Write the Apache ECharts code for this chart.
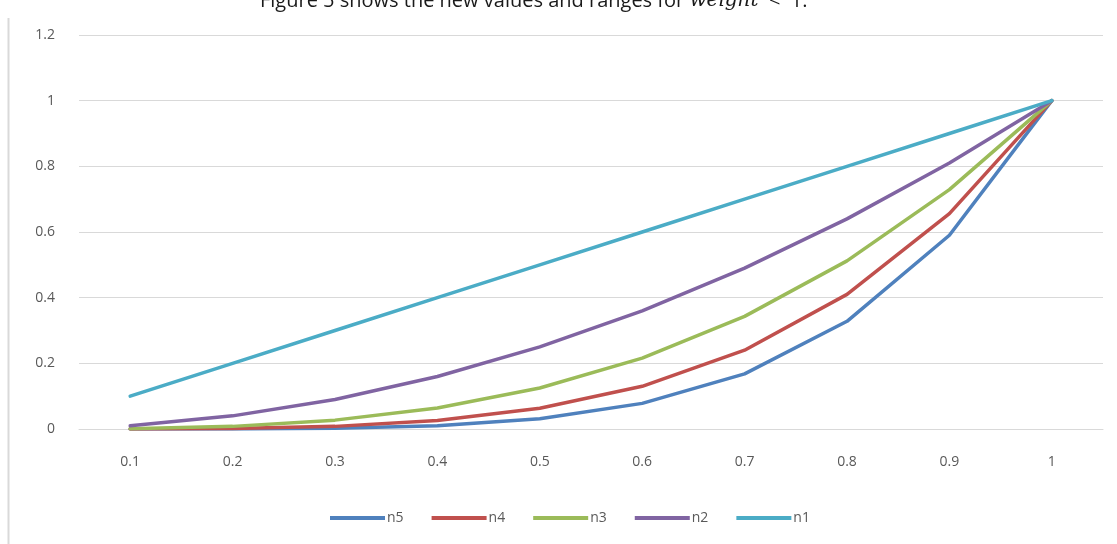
<!DOCTYPE html>
<html>
<head>
<meta charset="utf-8">
<script src="https://cdn.jsdelivr.net/npm/echarts@6/dist/echarts.min.js"></script>
<style>
  html, body { margin: 0; padding: 0; background: #ffffff; }
  #chart { width: 1117px; height: 544px; }
</style>
</head>
<body>
<div id="chart"></div>
<script>
// x positions (weight values)
const categories = ['0.1', '0.2', '0.3', '0.4', '0.5', '0.6', '0.7', '0.8', '0.9', '1'];

// curves for each exponent
const n5 = [0.00001, 0.0003, 0.0024, 0.010, 0.031, 0.078, 0.168, 0.328, 0.590, 1];
const n4 = [0.0001, 0.0016, 0.008, 0.026, 0.063, 0.130, 0.240, 0.410, 0.656, 1];
const n3 = [0.001, 0.008, 0.027, 0.064, 0.125, 0.216, 0.343, 0.512, 0.729, 1];
const n2 = [0.01, 0.04, 0.09, 0.16, 0.25, 0.36, 0.49, 0.64, 0.81, 1];
const n1 = [0.1, 0.2, 0.3, 0.4, 0.5, 0.6, 0.7, 0.8, 0.9, 1];

const yTicks = [0, 0.2, 0.4, 0.6, 0.8, 1, 1.2];

const seriesNames = ['n5', 'n4', 'n3', 'n2', 'n1'];
const seriesData = [n5, n4, n3, n2, n1];
const colors = ['#4F81BD', '#C0504D', '#9BBB59', '#8064A2', '#4BACC6'];

const font = '"Open Sans", "Noto Sans", sans-serif';
const chart = echarts.init(document.getElementById('chart'), null, { renderer: 'canvas' });

chart.setOption({
  animation: false,
  color: colors,
  textStyle: { fontFamily: font },
  grid: { left: 79, right: 14, top: 35, bottom: 115, containLabel: false },
  graphic: [
    {
      type: 'line',
      shape: { x1: 8.5, y1: 18, x2: 8.5, y2: 544 },
      style: { stroke: '#d9d9d9', lineWidth: 2 },
      silent: true
    },
    {
      type: 'text',
      left: 260,
      top: -9,
      style: {
        text: '{n|Figure 5 shows the new values and ranges for }{i|weight}{n|  <  1.}',
        rich: {
          n: { fontFamily: font, fontSize: 20, fill: '#1a1a1a' },
          i: { fontFamily: '"DejaVu Serif", "Liberation Serif", serif', fontStyle: 'italic', fontSize: 20, fill: '#1a1a1a' }
        }
      },
      silent: true
    }
  ],
  legend: {
    data: seriesNames,
    bottom: 14,
    left: 325,
    itemWidth: 55,
    itemHeight: 4,
    itemGap: 28,
    icon: 'rect',
    textStyle: { color: '#595959', fontSize: 14, fontFamily: font, padding: [0, 0, 0, -3] }
  },
  xAxis: {
    type: 'category',
    data: categories,
    boundaryGap: true,
    axisLine: { show: true, lineStyle: { color: '#d9d9d9', width: 1 } },
    axisTick: { show: false },
    axisLabel: { color: '#595959', fontSize: 14, margin: 26, fontFamily: font }
  },
  yAxis: {
    type: 'value',
    min: yTicks[0],
    max: yTicks[yTicks.length - 1],
    interval: 0.2,
    axisLine: { show: false },
    axisTick: { show: false },
    splitLine: { lineStyle: { color: '#d9d9d9', width: 1 } },
    axisLabel: {
      color: '#595959', fontSize: 14, margin: 24, fontFamily: font,
      formatter: v => String(Math.round(v * 10) / 10)
    }
  },
  series: seriesNames.map((name, i) => ({
    name: name,
    type: 'line',
    data: seriesData[i],
    symbol: 'none',
    smooth: false,
    lineStyle: { width: 3.5, color: colors[i], cap: 'round', join: 'round' },
    itemStyle: { color: colors[i] },
    z: 2 + i
  }))
});
</script>
</body>
</html>
